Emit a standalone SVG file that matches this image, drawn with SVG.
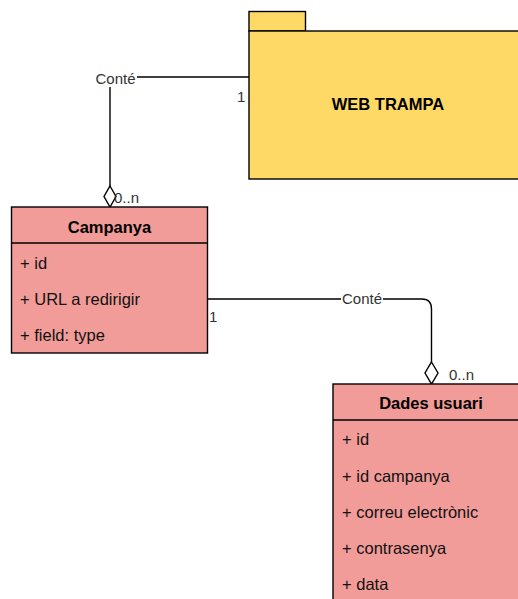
<svg xmlns="http://www.w3.org/2000/svg" width="518" height="599" viewBox="0 0 518 599">
  <style>
    .box { stroke: #000; stroke-width: 1.4; }
    .pkg { fill: #FFD966; }
    .cls { fill: #F19C99; }
    .title { font-family: "Liberation Sans", Arial, sans-serif; font-size: 16.5px; font-weight: bold; fill: #000; text-anchor: middle; }
    .attr { font-family: "Liberation Sans", Arial, sans-serif; font-size: 16.5px; fill: #111; }
    .edge { fill: none; stroke: #000; stroke-width: 1.4; }
    .lbl { font-family: "Liberation Sans", Arial, sans-serif; font-size: 15px; fill: #333; }
    .agg { fill: #fff; stroke: #000; stroke-width: 1.4; }
  </style>
  <rect width="518" height="599" fill="#fff"/>

  <g id="connectors">
    <!-- WEB TRAMPA -> Campanya -->
    <path class="edge" d="M249,77 H110 V186"/>
    <polygon class="agg" points="110,186 116,196.5 110,207 104,196.5"/>
    <rect x="94" y="69" width="43" height="18" fill="#fff"/>
    <text class="lbl" x="115.5" y="84" text-anchor="middle">Conté</text>
    <text class="lbl" x="237" y="102">1</text>
    <text class="lbl" x="114" y="203">0..n</text>

    <!-- Campanya -> Dades usuari -->
    <path class="edge" d="M207,299 H422 Q431.5,299 431.5,309 V362"/>
    <polygon class="agg" points="431.5,362 438,373 431.5,384 425,373"/>
    <rect x="341" y="291" width="42" height="17" fill="#fff"/>
    <text class="lbl" x="362" y="304" text-anchor="middle">Conté</text>
    <text class="lbl" x="209" y="322">1</text>
    <text class="lbl" x="449" y="380">0..n</text>
  </g>

  <g id="web-trampa">
    <rect class="box pkg" x="249" y="11.5" width="56.5" height="19.5"/>
    <rect class="box pkg" x="249" y="31" width="280" height="148"/>
    <text class="title" x="388" y="110">WEB TRAMPA</text>
  </g>

  <g id="campanya">
    <rect class="box cls" x="11.5" y="207" width="196" height="146"/>
    <line class="box" x1="11.5" y1="243" x2="207.5" y2="243"/>
    <text class="title" x="109.5" y="232.5">Campanya</text>
    <text class="attr" x="20" y="269">+ id</text>
    <text class="attr" x="20" y="305">+ URL a redirigir</text>
    <text class="attr" x="20" y="341">+ field: type</text>
  </g>

  <g id="dades-usuari">
    <rect class="box cls" x="333" y="384" width="196" height="230"/>
    <line class="box" x1="333" y1="420" x2="529" y2="420"/>
    <text class="title" x="431" y="409">Dades usuari</text>
    <text class="attr" x="342" y="445">+ id</text>
    <text class="attr" x="342" y="481.5">+ id campanya</text>
    <text class="attr" x="342" y="518">+ correu electrònic</text>
    <text class="attr" x="342" y="554">+ contrasenya</text>
    <text class="attr" x="342" y="590">+ data</text>
  </g>
</svg>
